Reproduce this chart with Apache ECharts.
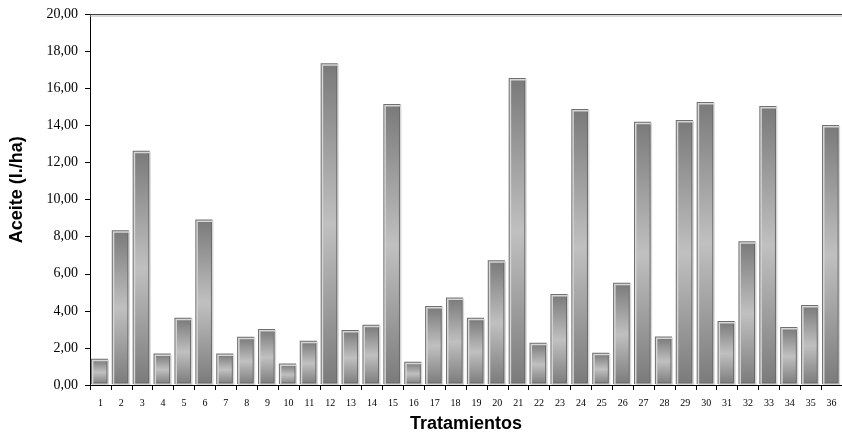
<!DOCTYPE html>
<html>
<head>
<meta charset="utf-8">
<script src="https://cdn.jsdelivr.net/npm/echarts@6/dist/echarts.min.js"></script>
<style>html,body{margin:0;padding:0;background:#fff}#c{width:842px;height:438px}</style>
</head>
<body>
<div id="c"></div>
<script>
var categories = ['1','2','3','4','5','6','7','8','9','10','11','12','13','14','15','16','17','18','19','20','21','22','23','24','25','26','27','28','29','30','31','32','33','34','35','36'];
var aceite = [1.36,8.29,12.59,1.65,3.57,8.88,1.65,2.55,2.97,1.1,2.33,17.31,2.92,3.19,15.11,1.2,4.21,4.67,3.57,6.68,16.51,2.22,4.85,14.84,1.69,5.46,14.15,2.56,14.25,15.22,3.4,7.7,15.0,3.08,4.26,13.98];
var yTicks = {min: 0, max: 20, interval: 2};
var xTitle = 'Tratamientos';
var yTitle = 'Aceite (l./ha)';

var chart = echarts.init(document.getElementById('c'), null, {renderer: 'canvas'});
var grad = new echarts.graphic.LinearGradient(0, 0, 0, 1, [
  {offset: 0, color: '#7a7a7a'},
  {offset: 0.5, color: '#c0c0c0'},
  {offset: 1, color: '#7a7a7a'}
]);
chart.setOption({
  animation: false,
  backgroundColor: '#ffffff',
  grid: {left: 90, right: -2, top: 14.3, bottom: 51.3, containLabel: false},
  xAxis: [{
    type: 'category',
    data: categories,
    boundaryGap: true,
    name: xTitle,
    nameLocation: 'middle',
    nameGap: 30,
    nameTextStyle: {fontFamily: 'Liberation Sans, Arial', fontWeight: 'bold', fontSize: 18, color: '#000'},
    axisLine: {lineStyle: {color: '#000', width: 1}},
    axisTick: {show: true, inside: false, length: 5, lineStyle: {color: '#000'}},
    axisLabel: {fontFamily: 'Liberation Serif, Times New Roman', fontSize: 10, color: '#000', margin: 13, interval: 0},
    splitLine: {show: false}
  }, {
    type: 'category',
    data: categories,
    position: 'top',
    axisLine: {lineStyle: {color: '#404040', width: 1.2, shadowColor: '#b8b8b8', shadowOffsetY: 1.5, shadowBlur: 0}},
    axisTick: {show: false},
    axisLabel: {show: false},
    splitLine: {show: false}
  }],
  yAxis: {
    type: 'value',
    min: yTicks.min,
    max: yTicks.max,
    interval: yTicks.interval,
    name: yTitle,
    nameLocation: 'middle',
    nameGap: 64,
    nameRotate: 90,
    nameTextStyle: {fontFamily: 'Liberation Sans, Arial', fontWeight: 'bold', fontSize: 18, color: '#000', padding: [0, 0, 0, 20]},
    axisLine: {show: true, lineStyle: {color: '#000', width: 1}},
    axisTick: {show: true, inside: false, length: 5, lineStyle: {color: '#000'}},
    axisLabel: {
      fontFamily: 'Liberation Serif, Times New Roman', fontSize: 14, color: '#000', margin: 12,
      formatter: function (v) { return v.toFixed(2).replace('.', ','); }
    },
    splitLine: {show: false}
  },
  series: [{
    type: 'bar',
    data: aceite,
    barCategoryGap: '18%',
    itemStyle: {
      color: grad,
      borderColor: '#d6d6d6',
      borderWidth: 1.5,
      shadowColor: 'rgba(100,100,100,0.9)',
      shadowOffsetX: -1,
      shadowOffsetY: -1,
      shadowBlur: 0
    }
  }]
});
</script>
</body>
</html>
